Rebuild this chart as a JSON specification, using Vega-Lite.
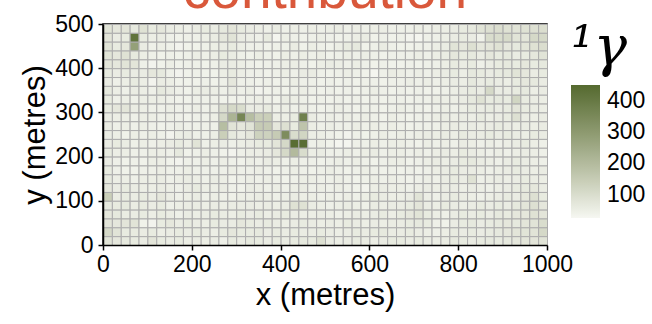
{
"$schema": "https://vega.github.io/schema/vega-lite/v6.json",
"width": 444,
"height": 221,
"autosize": {"type": "none"},
"padding": {"left": 103, "top": 24, "right": 105, "bottom": 79},
"title": {"text": "contribution", "fontSize": 55, "color": "#d9583b", "font": "Liberation Sans", "fontWeight": "normal", "anchor": "middle", "offset": -7, "frame": "group"},
"config": {"view": {"stroke": "black", "strokeWidth": 1.5}, "font": "Liberation Sans"},
"data": {"values": [
{"x":10,"y":490,"v":80},{"x":30,"y":490,"v":70},{"x":50,"y":490,"v":75},{"x":70,"y":490,"v":65},{"x":90,"y":490,"v":85},{"x":110,"y":490,"v":60},{"x":130,"y":490,"v":70},{"x":150,"y":490,"v":55},{"x":170,"y":490,"v":50},{"x":190,"y":490,"v":45},{"x":210,"y":490,"v":55},{"x":230,"y":490,"v":60},{"x":250,"y":490,"v":55},{"x":270,"y":490,"v":65},{"x":290,"y":490,"v":75},{"x":310,"y":490,"v":60},{"x":330,"y":490,"v":55},{"x":350,"y":490,"v":50},{"x":370,"y":490,"v":45},{"x":390,"y":490,"v":55},{"x":410,"y":490,"v":45},{"x":430,"y":490,"v":50},{"x":450,"y":490,"v":45},{"x":470,"y":490,"v":50},{"x":490,"y":490,"v":45},{"x":510,"y":490,"v":50},{"x":530,"y":490,"v":55},{"x":550,"y":490,"v":45},{"x":570,"y":490,"v":50},{"x":590,"y":490,"v":45},{"x":610,"y":490,"v":50},{"x":630,"y":490,"v":50},{"x":650,"y":490,"v":45},{"x":670,"y":490,"v":45},{"x":690,"y":490,"v":45},{"x":710,"y":490,"v":50},{"x":730,"y":490,"v":45},{"x":750,"y":490,"v":50},{"x":770,"y":490,"v":50},{"x":790,"y":490,"v":55},{"x":810,"y":490,"v":60},{"x":830,"y":490,"v":65},{"x":850,"y":490,"v":80},{"x":870,"y":490,"v":90},{"x":890,"y":490,"v":95},{"x":910,"y":490,"v":85},{"x":930,"y":490,"v":80},{"x":950,"y":490,"v":85},{"x":970,"y":490,"v":90},{"x":990,"y":490,"v":95},
{"x":10,"y":470,"v":75},{"x":30,"y":470,"v":55},{"x":50,"y":470,"v":60},{"x":70,"y":470,"v":420},{"x":90,"y":470,"v":60},{"x":110,"y":470,"v":50},{"x":130,"y":470,"v":55},{"x":150,"y":470,"v":45},{"x":170,"y":470,"v":40},{"x":190,"y":470,"v":45},{"x":210,"y":470,"v":45},{"x":230,"y":470,"v":50},{"x":250,"y":470,"v":55},{"x":270,"y":470,"v":70},{"x":290,"y":470,"v":80},{"x":310,"y":470,"v":55},{"x":330,"y":470,"v":50},{"x":350,"y":470,"v":45},{"x":370,"y":470,"v":60},{"x":390,"y":470,"v":30},{"x":410,"y":470,"v":50},{"x":430,"y":470,"v":45},{"x":450,"y":470,"v":40},{"x":470,"y":470,"v":45},{"x":490,"y":470,"v":50},{"x":510,"y":470,"v":45},{"x":530,"y":470,"v":40},{"x":550,"y":470,"v":45},{"x":570,"y":470,"v":50},{"x":590,"y":470,"v":55},{"x":610,"y":470,"v":40},{"x":630,"y":470,"v":45},{"x":650,"y":470,"v":40},{"x":670,"y":470,"v":45},{"x":690,"y":470,"v":35},{"x":710,"y":470,"v":30},{"x":730,"y":470,"v":45},{"x":750,"y":470,"v":45},{"x":770,"y":470,"v":50},{"x":790,"y":470,"v":55},{"x":810,"y":470,"v":60},{"x":830,"y":470,"v":55},{"x":850,"y":470,"v":40},{"x":870,"y":470,"v":100},{"x":890,"y":470,"v":100},{"x":910,"y":470,"v":105},{"x":930,"y":470,"v":80},{"x":950,"y":470,"v":75},{"x":970,"y":470,"v":110},{"x":990,"y":470,"v":110},
{"x":10,"y":450,"v":80},{"x":30,"y":450,"v":60},{"x":50,"y":450,"v":70},{"x":70,"y":450,"v":280},{"x":90,"y":450,"v":55},{"x":110,"y":450,"v":45},{"x":130,"y":450,"v":50},{"x":150,"y":450,"v":45},{"x":170,"y":450,"v":35},{"x":190,"y":450,"v":40},{"x":210,"y":450,"v":40},{"x":230,"y":450,"v":45},{"x":250,"y":450,"v":50},{"x":270,"y":450,"v":55},{"x":290,"y":450,"v":60},{"x":310,"y":450,"v":50},{"x":330,"y":450,"v":45},{"x":350,"y":450,"v":45},{"x":370,"y":450,"v":40},{"x":390,"y":450,"v":45},{"x":410,"y":450,"v":45},{"x":430,"y":450,"v":55},{"x":450,"y":450,"v":40},{"x":470,"y":450,"v":50},{"x":490,"y":450,"v":45},{"x":510,"y":450,"v":40},{"x":530,"y":450,"v":50},{"x":550,"y":450,"v":60},{"x":570,"y":450,"v":65},{"x":590,"y":450,"v":40},{"x":610,"y":450,"v":45},{"x":630,"y":450,"v":55},{"x":650,"y":450,"v":45},{"x":670,"y":450,"v":40},{"x":690,"y":450,"v":40},{"x":710,"y":450,"v":45},{"x":730,"y":450,"v":45},{"x":750,"y":450,"v":50},{"x":770,"y":450,"v":55},{"x":790,"y":450,"v":80},{"x":810,"y":450,"v":70},{"x":830,"y":450,"v":90},{"x":850,"y":450,"v":70},{"x":870,"y":450,"v":75},{"x":890,"y":450,"v":85},{"x":910,"y":450,"v":70},{"x":930,"y":450,"v":65},{"x":950,"y":450,"v":75},{"x":970,"y":450,"v":85},{"x":990,"y":450,"v":95},
{"x":10,"y":430,"v":80},{"x":30,"y":430,"v":70},{"x":50,"y":430,"v":85},{"x":70,"y":430,"v":65},{"x":90,"y":430,"v":50},{"x":110,"y":430,"v":45},{"x":130,"y":430,"v":40},{"x":150,"y":430,"v":45},{"x":170,"y":430,"v":40},{"x":190,"y":430,"v":45},{"x":210,"y":430,"v":50},{"x":230,"y":430,"v":45},{"x":250,"y":430,"v":50},{"x":270,"y":430,"v":60},{"x":290,"y":430,"v":55},{"x":310,"y":430,"v":45},{"x":330,"y":430,"v":40},{"x":350,"y":430,"v":50},{"x":370,"y":430,"v":45},{"x":390,"y":430,"v":40},{"x":410,"y":430,"v":50},{"x":430,"y":430,"v":45},{"x":450,"y":430,"v":50},{"x":470,"y":430,"v":45},{"x":490,"y":430,"v":50},{"x":510,"y":430,"v":40},{"x":530,"y":430,"v":45},{"x":550,"y":430,"v":50},{"x":570,"y":430,"v":45},{"x":590,"y":430,"v":50},{"x":610,"y":430,"v":45},{"x":630,"y":430,"v":40},{"x":650,"y":430,"v":45},{"x":670,"y":430,"v":45},{"x":690,"y":430,"v":45},{"x":710,"y":430,"v":50},{"x":730,"y":430,"v":45},{"x":750,"y":430,"v":50},{"x":770,"y":430,"v":55},{"x":790,"y":430,"v":70},{"x":810,"y":430,"v":60},{"x":830,"y":430,"v":65},{"x":850,"y":430,"v":55},{"x":870,"y":430,"v":70},{"x":890,"y":430,"v":60},{"x":910,"y":430,"v":65},{"x":930,"y":430,"v":55},{"x":950,"y":430,"v":60},{"x":970,"y":430,"v":70},{"x":990,"y":430,"v":80},
{"x":10,"y":410,"v":75},{"x":30,"y":410,"v":70},{"x":50,"y":410,"v":80},{"x":70,"y":410,"v":75},{"x":90,"y":410,"v":45},{"x":110,"y":410,"v":35},{"x":130,"y":410,"v":40},{"x":150,"y":410,"v":50},{"x":170,"y":410,"v":40},{"x":190,"y":410,"v":45},{"x":210,"y":410,"v":45},{"x":230,"y":410,"v":40},{"x":250,"y":410,"v":45},{"x":270,"y":410,"v":55},{"x":290,"y":410,"v":55},{"x":310,"y":410,"v":50},{"x":330,"y":410,"v":45},{"x":350,"y":410,"v":40},{"x":370,"y":410,"v":45},{"x":390,"y":410,"v":45},{"x":410,"y":410,"v":50},{"x":430,"y":410,"v":50},{"x":450,"y":410,"v":45},{"x":470,"y":410,"v":40},{"x":490,"y":410,"v":50},{"x":510,"y":410,"v":55},{"x":530,"y":410,"v":50},{"x":550,"y":410,"v":45},{"x":570,"y":410,"v":50},{"x":590,"y":410,"v":45},{"x":610,"y":410,"v":40},{"x":630,"y":410,"v":45},{"x":650,"y":410,"v":40},{"x":670,"y":410,"v":40},{"x":690,"y":410,"v":45},{"x":710,"y":410,"v":40},{"x":730,"y":410,"v":45},{"x":750,"y":410,"v":45},{"x":770,"y":410,"v":50},{"x":790,"y":410,"v":60},{"x":810,"y":410,"v":55},{"x":830,"y":410,"v":60},{"x":850,"y":410,"v":45},{"x":870,"y":410,"v":55},{"x":890,"y":410,"v":60},{"x":910,"y":410,"v":65},{"x":930,"y":410,"v":60},{"x":950,"y":410,"v":70},{"x":970,"y":410,"v":60},{"x":990,"y":410,"v":65},
{"x":10,"y":390,"v":60},{"x":30,"y":390,"v":55},{"x":50,"y":390,"v":60},{"x":70,"y":390,"v":55},{"x":90,"y":390,"v":55},{"x":110,"y":390,"v":70},{"x":130,"y":390,"v":65},{"x":150,"y":390,"v":45},{"x":170,"y":390,"v":35},{"x":190,"y":390,"v":40},{"x":210,"y":390,"v":45},{"x":230,"y":390,"v":40},{"x":250,"y":390,"v":40},{"x":270,"y":390,"v":50},{"x":290,"y":390,"v":60},{"x":310,"y":390,"v":50},{"x":330,"y":390,"v":45},{"x":350,"y":390,"v":45},{"x":370,"y":390,"v":40},{"x":390,"y":390,"v":45},{"x":410,"y":390,"v":50},{"x":430,"y":390,"v":45},{"x":450,"y":390,"v":55},{"x":470,"y":390,"v":55},{"x":490,"y":390,"v":45},{"x":510,"y":390,"v":40},{"x":530,"y":390,"v":45},{"x":550,"y":390,"v":50},{"x":570,"y":390,"v":45},{"x":590,"y":390,"v":40},{"x":610,"y":390,"v":30},{"x":630,"y":390,"v":45},{"x":650,"y":390,"v":55},{"x":670,"y":390,"v":50},{"x":690,"y":390,"v":45},{"x":710,"y":390,"v":50},{"x":730,"y":390,"v":45},{"x":750,"y":390,"v":50},{"x":770,"y":390,"v":55},{"x":790,"y":390,"v":60},{"x":810,"y":390,"v":50},{"x":830,"y":390,"v":65},{"x":850,"y":390,"v":60},{"x":870,"y":390,"v":55},{"x":890,"y":390,"v":60},{"x":910,"y":390,"v":65},{"x":930,"y":390,"v":80},{"x":950,"y":390,"v":70},{"x":970,"y":390,"v":55},{"x":990,"y":390,"v":60},
{"x":10,"y":370,"v":55},{"x":30,"y":370,"v":45},{"x":50,"y":370,"v":50},{"x":70,"y":370,"v":60},{"x":90,"y":370,"v":50},{"x":110,"y":370,"v":35},{"x":130,"y":370,"v":55},{"x":150,"y":370,"v":50},{"x":170,"y":370,"v":40},{"x":190,"y":370,"v":40},{"x":210,"y":370,"v":40},{"x":230,"y":370,"v":45},{"x":250,"y":370,"v":40},{"x":270,"y":370,"v":45},{"x":290,"y":370,"v":70},{"x":310,"y":370,"v":45},{"x":330,"y":370,"v":45},{"x":350,"y":370,"v":40},{"x":370,"y":370,"v":45},{"x":390,"y":370,"v":40},{"x":410,"y":370,"v":45},{"x":430,"y":370,"v":50},{"x":450,"y":370,"v":45},{"x":470,"y":370,"v":45},{"x":490,"y":370,"v":40},{"x":510,"y":370,"v":45},{"x":530,"y":370,"v":40},{"x":550,"y":370,"v":45},{"x":570,"y":370,"v":40},{"x":590,"y":370,"v":45},{"x":610,"y":370,"v":45},{"x":630,"y":370,"v":40},{"x":650,"y":370,"v":45},{"x":670,"y":370,"v":45},{"x":690,"y":370,"v":50},{"x":710,"y":370,"v":45},{"x":730,"y":370,"v":50},{"x":750,"y":370,"v":45},{"x":770,"y":370,"v":50},{"x":790,"y":370,"v":55},{"x":810,"y":370,"v":50},{"x":830,"y":370,"v":65},{"x":850,"y":370,"v":55},{"x":870,"y":370,"v":60},{"x":890,"y":370,"v":55},{"x":910,"y":370,"v":50},{"x":930,"y":370,"v":60},{"x":950,"y":370,"v":70},{"x":970,"y":370,"v":65},{"x":990,"y":370,"v":55},
{"x":10,"y":350,"v":65},{"x":30,"y":350,"v":50},{"x":50,"y":350,"v":45},{"x":70,"y":350,"v":55},{"x":90,"y":350,"v":50},{"x":110,"y":350,"v":45},{"x":130,"y":350,"v":65},{"x":150,"y":350,"v":55},{"x":170,"y":350,"v":45},{"x":190,"y":350,"v":40},{"x":210,"y":350,"v":50},{"x":230,"y":350,"v":55},{"x":250,"y":350,"v":50},{"x":270,"y":350,"v":45},{"x":290,"y":350,"v":55},{"x":310,"y":350,"v":45},{"x":330,"y":350,"v":50},{"x":350,"y":350,"v":35},{"x":370,"y":350,"v":40},{"x":390,"y":350,"v":45},{"x":410,"y":350,"v":40},{"x":430,"y":350,"v":45},{"x":450,"y":350,"v":50},{"x":470,"y":350,"v":45},{"x":490,"y":350,"v":40},{"x":510,"y":350,"v":45},{"x":530,"y":350,"v":40},{"x":550,"y":350,"v":45},{"x":570,"y":350,"v":40},{"x":590,"y":350,"v":45},{"x":610,"y":350,"v":50},{"x":630,"y":350,"v":45},{"x":650,"y":350,"v":40},{"x":670,"y":350,"v":45},{"x":690,"y":350,"v":40},{"x":710,"y":350,"v":45},{"x":730,"y":350,"v":40},{"x":750,"y":350,"v":40},{"x":770,"y":350,"v":45},{"x":790,"y":350,"v":50},{"x":810,"y":350,"v":55},{"x":830,"y":350,"v":60},{"x":850,"y":350,"v":55},{"x":870,"y":350,"v":110},{"x":890,"y":350,"v":55},{"x":910,"y":350,"v":55},{"x":930,"y":350,"v":60},{"x":950,"y":350,"v":65},{"x":970,"y":350,"v":50},{"x":990,"y":350,"v":55},
{"x":10,"y":330,"v":60},{"x":30,"y":330,"v":45},{"x":50,"y":330,"v":50},{"x":70,"y":330,"v":45},{"x":90,"y":330,"v":50},{"x":110,"y":330,"v":50},{"x":130,"y":330,"v":50},{"x":150,"y":330,"v":45},{"x":170,"y":330,"v":40},{"x":190,"y":330,"v":40},{"x":210,"y":330,"v":45},{"x":230,"y":330,"v":45},{"x":250,"y":330,"v":45},{"x":270,"y":330,"v":40},{"x":290,"y":330,"v":40},{"x":310,"y":330,"v":40},{"x":330,"y":330,"v":45},{"x":350,"y":330,"v":50},{"x":370,"y":330,"v":45},{"x":390,"y":330,"v":40},{"x":410,"y":330,"v":55},{"x":430,"y":330,"v":50},{"x":450,"y":330,"v":45},{"x":470,"y":330,"v":40},{"x":490,"y":330,"v":45},{"x":510,"y":330,"v":40},{"x":530,"y":330,"v":45},{"x":550,"y":330,"v":40},{"x":570,"y":330,"v":45},{"x":590,"y":330,"v":40},{"x":610,"y":330,"v":45},{"x":630,"y":330,"v":40},{"x":650,"y":330,"v":45},{"x":670,"y":330,"v":45},{"x":690,"y":330,"v":40},{"x":710,"y":330,"v":45},{"x":730,"y":330,"v":45},{"x":750,"y":330,"v":50},{"x":770,"y":330,"v":50},{"x":790,"y":330,"v":50},{"x":810,"y":330,"v":55},{"x":830,"y":330,"v":65},{"x":850,"y":330,"v":85},{"x":870,"y":330,"v":60},{"x":890,"y":330,"v":65},{"x":910,"y":330,"v":60},{"x":930,"y":330,"v":120},{"x":950,"y":330,"v":60},{"x":970,"y":330,"v":55},{"x":990,"y":330,"v":50},
{"x":10,"y":310,"v":60},{"x":30,"y":310,"v":70},{"x":50,"y":310,"v":75},{"x":70,"y":310,"v":55},{"x":90,"y":310,"v":50},{"x":110,"y":310,"v":45},{"x":130,"y":310,"v":45},{"x":150,"y":310,"v":50},{"x":170,"y":310,"v":45},{"x":190,"y":310,"v":45},{"x":210,"y":310,"v":50},{"x":230,"y":310,"v":45},{"x":250,"y":310,"v":50},{"x":270,"y":310,"v":90},{"x":290,"y":310,"v":110},{"x":310,"y":310,"v":100},{"x":330,"y":310,"v":55},{"x":350,"y":310,"v":55},{"x":370,"y":310,"v":60},{"x":390,"y":310,"v":45},{"x":410,"y":310,"v":50},{"x":430,"y":310,"v":45},{"x":450,"y":310,"v":50},{"x":470,"y":310,"v":45},{"x":490,"y":310,"v":40},{"x":510,"y":310,"v":45},{"x":530,"y":310,"v":50},{"x":550,"y":310,"v":45},{"x":570,"y":310,"v":40},{"x":590,"y":310,"v":45},{"x":610,"y":310,"v":45},{"x":630,"y":310,"v":40},{"x":650,"y":310,"v":45},{"x":670,"y":310,"v":50},{"x":690,"y":310,"v":45},{"x":710,"y":310,"v":45},{"x":730,"y":310,"v":40},{"x":750,"y":310,"v":45},{"x":770,"y":310,"v":50},{"x":790,"y":310,"v":45},{"x":810,"y":310,"v":50},{"x":830,"y":310,"v":60},{"x":850,"y":310,"v":55},{"x":870,"y":310,"v":60},{"x":890,"y":310,"v":55},{"x":910,"y":310,"v":60},{"x":930,"y":310,"v":75},{"x":950,"y":310,"v":60},{"x":970,"y":310,"v":55},{"x":990,"y":310,"v":50},
{"x":10,"y":290,"v":55},{"x":30,"y":290,"v":50},{"x":50,"y":290,"v":50},{"x":70,"y":290,"v":45},{"x":90,"y":290,"v":50},{"x":110,"y":290,"v":50},{"x":130,"y":290,"v":45},{"x":150,"y":290,"v":50},{"x":170,"y":290,"v":45},{"x":190,"y":290,"v":40},{"x":210,"y":290,"v":45},{"x":230,"y":290,"v":45},{"x":250,"y":290,"v":50},{"x":270,"y":290,"v":110},{"x":290,"y":290,"v":220},{"x":310,"y":290,"v":360},{"x":330,"y":290,"v":190},{"x":350,"y":290,"v":140},{"x":370,"y":290,"v":140},{"x":390,"y":290,"v":50},{"x":410,"y":290,"v":50},{"x":430,"y":290,"v":60},{"x":450,"y":290,"v":380},{"x":470,"y":290,"v":55},{"x":490,"y":290,"v":45},{"x":510,"y":290,"v":50},{"x":530,"y":290,"v":45},{"x":550,"y":290,"v":50},{"x":570,"y":290,"v":45},{"x":590,"y":290,"v":50},{"x":610,"y":290,"v":45},{"x":630,"y":290,"v":40},{"x":650,"y":290,"v":50},{"x":670,"y":290,"v":45},{"x":690,"y":290,"v":40},{"x":710,"y":290,"v":45},{"x":730,"y":290,"v":45},{"x":750,"y":290,"v":50},{"x":770,"y":290,"v":55},{"x":790,"y":290,"v":50},{"x":810,"y":290,"v":55},{"x":830,"y":290,"v":50},{"x":850,"y":290,"v":60},{"x":870,"y":290,"v":50},{"x":890,"y":290,"v":55},{"x":910,"y":290,"v":60},{"x":930,"y":290,"v":90},{"x":950,"y":290,"v":55},{"x":970,"y":290,"v":50},{"x":990,"y":290,"v":55},
{"x":10,"y":270,"v":55},{"x":30,"y":270,"v":45},{"x":50,"y":270,"v":50},{"x":70,"y":270,"v":45},{"x":90,"y":270,"v":50},{"x":110,"y":270,"v":45},{"x":130,"y":270,"v":40},{"x":150,"y":270,"v":45},{"x":170,"y":270,"v":50},{"x":190,"y":270,"v":45},{"x":210,"y":270,"v":45},{"x":230,"y":270,"v":45},{"x":250,"y":270,"v":45},{"x":270,"y":270,"v":190},{"x":290,"y":270,"v":80},{"x":310,"y":270,"v":70},{"x":330,"y":270,"v":80},{"x":350,"y":270,"v":150},{"x":370,"y":270,"v":150},{"x":390,"y":270,"v":70},{"x":410,"y":270,"v":90},{"x":430,"y":270,"v":60},{"x":450,"y":270,"v":170},{"x":470,"y":270,"v":50},{"x":490,"y":270,"v":45},{"x":510,"y":270,"v":50},{"x":530,"y":270,"v":45},{"x":550,"y":270,"v":45},{"x":570,"y":270,"v":50},{"x":590,"y":270,"v":45},{"x":610,"y":270,"v":50},{"x":630,"y":270,"v":45},{"x":650,"y":270,"v":50},{"x":670,"y":270,"v":45},{"x":690,"y":270,"v":40},{"x":710,"y":270,"v":45},{"x":730,"y":270,"v":45},{"x":750,"y":270,"v":45},{"x":770,"y":270,"v":50},{"x":790,"y":270,"v":55},{"x":810,"y":270,"v":50},{"x":830,"y":270,"v":55},{"x":850,"y":270,"v":50},{"x":870,"y":270,"v":55},{"x":890,"y":270,"v":60},{"x":910,"y":270,"v":55},{"x":930,"y":270,"v":50},{"x":950,"y":270,"v":55},{"x":970,"y":270,"v":50},{"x":990,"y":270,"v":55},
{"x":10,"y":250,"v":55},{"x":30,"y":250,"v":50},{"x":50,"y":250,"v":40},{"x":70,"y":250,"v":50},{"x":90,"y":250,"v":45},{"x":110,"y":250,"v":50},{"x":130,"y":250,"v":45},{"x":150,"y":250,"v":35},{"x":170,"y":250,"v":50},{"x":190,"y":250,"v":55},{"x":210,"y":250,"v":45},{"x":230,"y":250,"v":45},{"x":250,"y":250,"v":50},{"x":270,"y":250,"v":140},{"x":290,"y":250,"v":65},{"x":310,"y":250,"v":55},{"x":330,"y":250,"v":70},{"x":350,"y":250,"v":130},{"x":370,"y":250,"v":130},{"x":390,"y":250,"v":150},{"x":410,"y":250,"v":340},{"x":430,"y":250,"v":100},{"x":450,"y":250,"v":120},{"x":470,"y":250,"v":50},{"x":490,"y":250,"v":50},{"x":510,"y":250,"v":45},{"x":530,"y":250,"v":40},{"x":550,"y":250,"v":35},{"x":570,"y":250,"v":45},{"x":590,"y":250,"v":40},{"x":610,"y":250,"v":45},{"x":630,"y":250,"v":50},{"x":650,"y":250,"v":45},{"x":670,"y":250,"v":50},{"x":690,"y":250,"v":45},{"x":710,"y":250,"v":50},{"x":730,"y":250,"v":55},{"x":750,"y":250,"v":50},{"x":770,"y":250,"v":55},{"x":790,"y":250,"v":50},{"x":810,"y":250,"v":60},{"x":830,"y":250,"v":55},{"x":850,"y":250,"v":55},{"x":870,"y":250,"v":60},{"x":890,"y":250,"v":55},{"x":910,"y":250,"v":60},{"x":930,"y":250,"v":55},{"x":950,"y":250,"v":50},{"x":970,"y":250,"v":60},{"x":990,"y":250,"v":55},
{"x":10,"y":230,"v":55},{"x":30,"y":230,"v":60},{"x":50,"y":230,"v":55},{"x":70,"y":230,"v":45},{"x":90,"y":230,"v":50},{"x":110,"y":230,"v":45},{"x":130,"y":230,"v":50},{"x":150,"y":230,"v":55},{"x":170,"y":230,"v":60},{"x":190,"y":230,"v":50},{"x":210,"y":230,"v":80},{"x":230,"y":230,"v":45},{"x":250,"y":230,"v":50},{"x":270,"y":230,"v":55},{"x":290,"y":230,"v":45},{"x":310,"y":230,"v":50},{"x":330,"y":230,"v":55},{"x":350,"y":230,"v":60},{"x":370,"y":230,"v":60},{"x":390,"y":230,"v":75},{"x":410,"y":230,"v":110},{"x":430,"y":230,"v":440},{"x":450,"y":230,"v":440},{"x":470,"y":230,"v":45},{"x":490,"y":230,"v":50},{"x":510,"y":230,"v":40},{"x":530,"y":230,"v":30},{"x":550,"y":230,"v":30},{"x":570,"y":230,"v":45},{"x":590,"y":230,"v":45},{"x":610,"y":230,"v":50},{"x":630,"y":230,"v":45},{"x":650,"y":230,"v":50},{"x":670,"y":230,"v":50},{"x":690,"y":230,"v":45},{"x":710,"y":230,"v":40},{"x":730,"y":230,"v":50},{"x":750,"y":230,"v":45},{"x":770,"y":230,"v":50},{"x":790,"y":230,"v":45},{"x":810,"y":230,"v":55},{"x":830,"y":230,"v":50},{"x":850,"y":230,"v":45},{"x":870,"y":230,"v":50},{"x":890,"y":230,"v":45},{"x":910,"y":230,"v":50},{"x":930,"y":230,"v":55},{"x":950,"y":230,"v":60},{"x":970,"y":230,"v":50},{"x":990,"y":230,"v":45},
{"x":10,"y":210,"v":60},{"x":30,"y":210,"v":50},{"x":50,"y":210,"v":50},{"x":70,"y":210,"v":45},{"x":90,"y":210,"v":45},{"x":110,"y":210,"v":50},{"x":130,"y":210,"v":50},{"x":150,"y":210,"v":45},{"x":170,"y":210,"v":65},{"x":190,"y":210,"v":40},{"x":210,"y":210,"v":45},{"x":230,"y":210,"v":50},{"x":250,"y":210,"v":45},{"x":270,"y":210,"v":40},{"x":290,"y":210,"v":35},{"x":310,"y":210,"v":45},{"x":330,"y":210,"v":50},{"x":350,"y":210,"v":50},{"x":370,"y":210,"v":55},{"x":390,"y":210,"v":70},{"x":410,"y":210,"v":110},{"x":430,"y":210,"v":200},{"x":450,"y":210,"v":100},{"x":470,"y":210,"v":50},{"x":490,"y":210,"v":55},{"x":510,"y":210,"v":45},{"x":530,"y":210,"v":45},{"x":550,"y":210,"v":50},{"x":570,"y":210,"v":45},{"x":590,"y":210,"v":50},{"x":610,"y":210,"v":55},{"x":630,"y":210,"v":45},{"x":650,"y":210,"v":50},{"x":670,"y":210,"v":50},{"x":690,"y":210,"v":45},{"x":710,"y":210,"v":50},{"x":730,"y":210,"v":45},{"x":750,"y":210,"v":50},{"x":770,"y":210,"v":55},{"x":790,"y":210,"v":50},{"x":810,"y":210,"v":60},{"x":830,"y":210,"v":55},{"x":850,"y":210,"v":50},{"x":870,"y":210,"v":45},{"x":890,"y":210,"v":50},{"x":910,"y":210,"v":45},{"x":930,"y":210,"v":50},{"x":950,"y":210,"v":55},{"x":970,"y":210,"v":50},{"x":990,"y":210,"v":45},
{"x":10,"y":190,"v":55},{"x":30,"y":190,"v":45},{"x":50,"y":190,"v":40},{"x":70,"y":190,"v":45},{"x":90,"y":190,"v":40},{"x":110,"y":190,"v":50},{"x":130,"y":190,"v":50},{"x":150,"y":190,"v":40},{"x":170,"y":190,"v":35},{"x":190,"y":190,"v":45},{"x":210,"y":190,"v":45},{"x":230,"y":190,"v":50},{"x":250,"y":190,"v":45},{"x":270,"y":190,"v":50},{"x":290,"y":190,"v":45},{"x":310,"y":190,"v":40},{"x":330,"y":190,"v":50},{"x":350,"y":190,"v":45},{"x":370,"y":190,"v":55},{"x":390,"y":190,"v":50},{"x":410,"y":190,"v":45},{"x":430,"y":190,"v":50},{"x":450,"y":190,"v":45},{"x":470,"y":190,"v":45},{"x":490,"y":190,"v":40},{"x":510,"y":190,"v":45},{"x":530,"y":190,"v":50},{"x":550,"y":190,"v":45},{"x":570,"y":190,"v":50},{"x":590,"y":190,"v":45},{"x":610,"y":190,"v":40},{"x":630,"y":190,"v":45},{"x":650,"y":190,"v":50},{"x":670,"y":190,"v":50},{"x":690,"y":190,"v":40},{"x":710,"y":190,"v":45},{"x":730,"y":190,"v":50},{"x":750,"y":190,"v":55},{"x":770,"y":190,"v":50},{"x":790,"y":190,"v":55},{"x":810,"y":190,"v":60},{"x":830,"y":190,"v":65},{"x":850,"y":190,"v":55},{"x":870,"y":190,"v":50},{"x":890,"y":190,"v":45},{"x":910,"y":190,"v":55},{"x":930,"y":190,"v":60},{"x":950,"y":190,"v":55},{"x":970,"y":190,"v":50},{"x":990,"y":190,"v":45},
{"x":10,"y":170,"v":60},{"x":30,"y":170,"v":45},{"x":50,"y":170,"v":40},{"x":70,"y":170,"v":40},{"x":90,"y":170,"v":45},{"x":110,"y":170,"v":45},{"x":130,"y":170,"v":50},{"x":150,"y":170,"v":45},{"x":170,"y":170,"v":45},{"x":190,"y":170,"v":50},{"x":210,"y":170,"v":45},{"x":230,"y":170,"v":45},{"x":250,"y":170,"v":45},{"x":270,"y":170,"v":45},{"x":290,"y":170,"v":50},{"x":310,"y":170,"v":45},{"x":330,"y":170,"v":45},{"x":350,"y":170,"v":50},{"x":370,"y":170,"v":45},{"x":390,"y":170,"v":40},{"x":410,"y":170,"v":45},{"x":430,"y":170,"v":50},{"x":450,"y":170,"v":45},{"x":470,"y":170,"v":40},{"x":490,"y":170,"v":45},{"x":510,"y":170,"v":50},{"x":530,"y":170,"v":45},{"x":550,"y":170,"v":40},{"x":570,"y":170,"v":45},{"x":590,"y":170,"v":50},{"x":610,"y":170,"v":45},{"x":630,"y":170,"v":40},{"x":650,"y":170,"v":45},{"x":670,"y":170,"v":40},{"x":690,"y":170,"v":45},{"x":710,"y":170,"v":40},{"x":730,"y":170,"v":45},{"x":750,"y":170,"v":50},{"x":770,"y":170,"v":55},{"x":790,"y":170,"v":60},{"x":810,"y":170,"v":55},{"x":830,"y":170,"v":55},{"x":850,"y":170,"v":50},{"x":870,"y":170,"v":45},{"x":890,"y":170,"v":50},{"x":910,"y":170,"v":55},{"x":930,"y":170,"v":60},{"x":950,"y":170,"v":55},{"x":970,"y":170,"v":50},{"x":990,"y":170,"v":55},
{"x":10,"y":150,"v":65},{"x":30,"y":150,"v":50},{"x":50,"y":150,"v":50},{"x":70,"y":150,"v":45},{"x":90,"y":150,"v":50},{"x":110,"y":150,"v":50},{"x":130,"y":150,"v":55},{"x":150,"y":150,"v":45},{"x":170,"y":150,"v":50},{"x":190,"y":150,"v":55},{"x":210,"y":150,"v":50},{"x":230,"y":150,"v":45},{"x":250,"y":150,"v":55},{"x":270,"y":150,"v":50},{"x":290,"y":150,"v":40},{"x":310,"y":150,"v":45},{"x":330,"y":150,"v":50},{"x":350,"y":150,"v":45},{"x":370,"y":150,"v":50},{"x":390,"y":150,"v":45},{"x":410,"y":150,"v":40},{"x":430,"y":150,"v":45},{"x":450,"y":150,"v":50},{"x":470,"y":150,"v":50},{"x":490,"y":150,"v":45},{"x":510,"y":150,"v":45},{"x":530,"y":150,"v":50},{"x":550,"y":150,"v":45},{"x":570,"y":150,"v":40},{"x":590,"y":150,"v":45},{"x":610,"y":150,"v":50},{"x":630,"y":150,"v":45},{"x":650,"y":150,"v":50},{"x":670,"y":150,"v":45},{"x":690,"y":150,"v":40},{"x":710,"y":150,"v":45},{"x":730,"y":150,"v":50},{"x":750,"y":150,"v":45},{"x":770,"y":150,"v":55},{"x":790,"y":150,"v":60},{"x":810,"y":150,"v":55},{"x":830,"y":150,"v":85},{"x":850,"y":150,"v":45},{"x":870,"y":150,"v":50},{"x":890,"y":150,"v":55},{"x":910,"y":150,"v":50},{"x":930,"y":150,"v":55},{"x":950,"y":150,"v":60},{"x":970,"y":150,"v":55},{"x":990,"y":150,"v":50},
{"x":10,"y":130,"v":70},{"x":30,"y":130,"v":55},{"x":50,"y":130,"v":60},{"x":70,"y":130,"v":55},{"x":90,"y":130,"v":50},{"x":110,"y":130,"v":50},{"x":130,"y":130,"v":55},{"x":150,"y":130,"v":50},{"x":170,"y":130,"v":45},{"x":190,"y":130,"v":55},{"x":210,"y":130,"v":60},{"x":230,"y":130,"v":50},{"x":250,"y":130,"v":50},{"x":270,"y":130,"v":55},{"x":290,"y":130,"v":45},{"x":310,"y":130,"v":40},{"x":330,"y":130,"v":55},{"x":350,"y":130,"v":50},{"x":370,"y":130,"v":45},{"x":390,"y":130,"v":50},{"x":410,"y":130,"v":45},{"x":430,"y":130,"v":50},{"x":450,"y":130,"v":55},{"x":470,"y":130,"v":45},{"x":490,"y":130,"v":50},{"x":510,"y":130,"v":45},{"x":530,"y":130,"v":50},{"x":550,"y":130,"v":45},{"x":570,"y":130,"v":40},{"x":590,"y":130,"v":35},{"x":610,"y":130,"v":50},{"x":630,"y":130,"v":55},{"x":650,"y":130,"v":50},{"x":670,"y":130,"v":50},{"x":690,"y":130,"v":45},{"x":710,"y":130,"v":50},{"x":730,"y":130,"v":55},{"x":750,"y":130,"v":50},{"x":770,"y":130,"v":55},{"x":790,"y":130,"v":55},{"x":810,"y":130,"v":50},{"x":830,"y":130,"v":55},{"x":850,"y":130,"v":50},{"x":870,"y":130,"v":45},{"x":890,"y":130,"v":50},{"x":910,"y":130,"v":55},{"x":930,"y":130,"v":60},{"x":950,"y":130,"v":65},{"x":970,"y":130,"v":70},{"x":990,"y":130,"v":55},
{"x":10,"y":110,"v":140},{"x":30,"y":110,"v":55},{"x":50,"y":110,"v":60},{"x":70,"y":110,"v":55},{"x":90,"y":110,"v":60},{"x":110,"y":110,"v":55},{"x":130,"y":110,"v":70},{"x":150,"y":110,"v":55},{"x":170,"y":110,"v":45},{"x":190,"y":110,"v":50},{"x":210,"y":110,"v":55},{"x":230,"y":110,"v":45},{"x":250,"y":110,"v":50},{"x":270,"y":110,"v":45},{"x":290,"y":110,"v":45},{"x":310,"y":110,"v":50},{"x":330,"y":110,"v":50},{"x":350,"y":110,"v":55},{"x":370,"y":110,"v":50},{"x":390,"y":110,"v":45},{"x":410,"y":110,"v":50},{"x":430,"y":110,"v":55},{"x":450,"y":110,"v":50},{"x":470,"y":110,"v":50},{"x":490,"y":110,"v":45},{"x":510,"y":110,"v":50},{"x":530,"y":110,"v":45},{"x":550,"y":110,"v":50},{"x":570,"y":110,"v":45},{"x":590,"y":110,"v":50},{"x":610,"y":110,"v":60},{"x":630,"y":110,"v":55},{"x":650,"y":110,"v":50},{"x":670,"y":110,"v":50},{"x":690,"y":110,"v":55},{"x":710,"y":110,"v":80},{"x":730,"y":110,"v":50},{"x":750,"y":110,"v":45},{"x":770,"y":110,"v":55},{"x":790,"y":110,"v":60},{"x":810,"y":110,"v":55},{"x":830,"y":110,"v":50},{"x":850,"y":110,"v":45},{"x":870,"y":110,"v":50},{"x":890,"y":110,"v":55},{"x":910,"y":110,"v":60},{"x":930,"y":110,"v":55},{"x":950,"y":110,"v":70},{"x":970,"y":110,"v":90},{"x":990,"y":110,"v":60},
{"x":10,"y":90,"v":65},{"x":30,"y":90,"v":60},{"x":50,"y":90,"v":65},{"x":70,"y":90,"v":55},{"x":90,"y":90,"v":60},{"x":110,"y":90,"v":55},{"x":130,"y":90,"v":60},{"x":150,"y":90,"v":45},{"x":170,"y":90,"v":50},{"x":190,"y":90,"v":55},{"x":210,"y":90,"v":55},{"x":230,"y":90,"v":50},{"x":250,"y":90,"v":55},{"x":270,"y":90,"v":50},{"x":290,"y":90,"v":55},{"x":310,"y":90,"v":55},{"x":330,"y":90,"v":55},{"x":350,"y":90,"v":50},{"x":370,"y":90,"v":55},{"x":390,"y":90,"v":50},{"x":410,"y":90,"v":55},{"x":430,"y":90,"v":85},{"x":450,"y":90,"v":85},{"x":470,"y":90,"v":55},{"x":490,"y":90,"v":50},{"x":510,"y":90,"v":45},{"x":530,"y":90,"v":50},{"x":550,"y":90,"v":55},{"x":570,"y":90,"v":50},{"x":590,"y":90,"v":45},{"x":610,"y":90,"v":55},{"x":630,"y":90,"v":50},{"x":650,"y":90,"v":55},{"x":670,"y":90,"v":55},{"x":690,"y":90,"v":60},{"x":710,"y":90,"v":75},{"x":730,"y":90,"v":55},{"x":750,"y":90,"v":50},{"x":770,"y":90,"v":60},{"x":790,"y":90,"v":55},{"x":810,"y":90,"v":50},{"x":830,"y":90,"v":55},{"x":850,"y":90,"v":60},{"x":870,"y":90,"v":55},{"x":890,"y":90,"v":60},{"x":910,"y":90,"v":55},{"x":930,"y":90,"v":65},{"x":950,"y":90,"v":75},{"x":970,"y":90,"v":90},{"x":990,"y":90,"v":70},
{"x":10,"y":70,"v":70},{"x":30,"y":70,"v":65},{"x":50,"y":70,"v":55},{"x":70,"y":70,"v":55},{"x":90,"y":70,"v":60},{"x":110,"y":70,"v":50},{"x":130,"y":70,"v":60},{"x":150,"y":70,"v":55},{"x":170,"y":70,"v":45},{"x":190,"y":70,"v":55},{"x":210,"y":70,"v":50},{"x":230,"y":70,"v":55},{"x":250,"y":70,"v":60},{"x":270,"y":70,"v":55},{"x":290,"y":70,"v":50},{"x":310,"y":70,"v":60},{"x":330,"y":70,"v":55},{"x":350,"y":70,"v":60},{"x":370,"y":70,"v":50},{"x":390,"y":70,"v":55},{"x":410,"y":70,"v":60},{"x":430,"y":70,"v":55},{"x":450,"y":70,"v":50},{"x":470,"y":70,"v":50},{"x":490,"y":70,"v":55},{"x":510,"y":70,"v":50},{"x":530,"y":70,"v":45},{"x":550,"y":70,"v":50},{"x":570,"y":70,"v":55},{"x":590,"y":70,"v":50},{"x":610,"y":70,"v":55},{"x":630,"y":70,"v":60},{"x":650,"y":70,"v":50},{"x":670,"y":70,"v":60},{"x":690,"y":70,"v":70},{"x":710,"y":70,"v":80},{"x":730,"y":70,"v":60},{"x":750,"y":70,"v":50},{"x":770,"y":70,"v":45},{"x":790,"y":70,"v":55},{"x":810,"y":70,"v":60},{"x":830,"y":70,"v":55},{"x":850,"y":70,"v":60},{"x":870,"y":70,"v":55},{"x":890,"y":70,"v":65},{"x":910,"y":70,"v":60},{"x":930,"y":70,"v":70},{"x":950,"y":70,"v":70},{"x":970,"y":70,"v":85},{"x":990,"y":70,"v":75},
{"x":10,"y":50,"v":75},{"x":30,"y":50,"v":70},{"x":50,"y":50,"v":75},{"x":70,"y":50,"v":80},{"x":90,"y":50,"v":40},{"x":110,"y":50,"v":35},{"x":130,"y":50,"v":60},{"x":150,"y":50,"v":70},{"x":170,"y":50,"v":55},{"x":190,"y":50,"v":60},{"x":210,"y":50,"v":55},{"x":230,"y":50,"v":50},{"x":250,"y":50,"v":60},{"x":270,"y":50,"v":55},{"x":290,"y":50,"v":55},{"x":310,"y":50,"v":70},{"x":330,"y":50,"v":60},{"x":350,"y":50,"v":55},{"x":370,"y":50,"v":60},{"x":390,"y":50,"v":55},{"x":410,"y":50,"v":50},{"x":430,"y":50,"v":55},{"x":450,"y":50,"v":60},{"x":470,"y":50,"v":55},{"x":490,"y":50,"v":50},{"x":510,"y":50,"v":55},{"x":530,"y":50,"v":50},{"x":550,"y":50,"v":60},{"x":570,"y":50,"v":55},{"x":590,"y":50,"v":50},{"x":610,"y":50,"v":55},{"x":630,"y":50,"v":50},{"x":650,"y":50,"v":55},{"x":670,"y":50,"v":55},{"x":690,"y":50,"v":60},{"x":710,"y":50,"v":65},{"x":730,"y":50,"v":60},{"x":750,"y":50,"v":45},{"x":770,"y":50,"v":40},{"x":790,"y":50,"v":55},{"x":810,"y":50,"v":60},{"x":830,"y":50,"v":65},{"x":850,"y":50,"v":55},{"x":870,"y":50,"v":60},{"x":890,"y":50,"v":65},{"x":910,"y":50,"v":70},{"x":930,"y":50,"v":65},{"x":950,"y":50,"v":75},{"x":970,"y":50,"v":80},{"x":990,"y":50,"v":100},
{"x":10,"y":30,"v":110},{"x":30,"y":30,"v":80},{"x":50,"y":30,"v":60},{"x":70,"y":30,"v":60},{"x":90,"y":30,"v":55},{"x":110,"y":30,"v":60},{"x":130,"y":30,"v":50},{"x":150,"y":30,"v":55},{"x":170,"y":30,"v":60},{"x":190,"y":30,"v":55},{"x":210,"y":30,"v":60},{"x":230,"y":30,"v":55},{"x":250,"y":30,"v":50},{"x":270,"y":30,"v":60},{"x":290,"y":30,"v":70},{"x":310,"y":30,"v":60},{"x":330,"y":30,"v":60},{"x":350,"y":30,"v":65},{"x":370,"y":30,"v":55},{"x":390,"y":30,"v":60},{"x":410,"y":30,"v":55},{"x":430,"y":30,"v":60},{"x":450,"y":30,"v":55},{"x":470,"y":30,"v":55},{"x":490,"y":30,"v":60},{"x":510,"y":30,"v":55},{"x":530,"y":30,"v":50},{"x":550,"y":30,"v":55},{"x":570,"y":30,"v":60},{"x":590,"y":30,"v":55},{"x":610,"y":30,"v":60},{"x":630,"y":30,"v":65},{"x":650,"y":30,"v":55},{"x":670,"y":30,"v":55},{"x":690,"y":30,"v":60},{"x":710,"y":30,"v":55},{"x":730,"y":30,"v":50},{"x":750,"y":30,"v":45},{"x":770,"y":30,"v":50},{"x":790,"y":30,"v":60},{"x":810,"y":30,"v":55},{"x":830,"y":30,"v":60},{"x":850,"y":30,"v":55},{"x":870,"y":30,"v":60},{"x":890,"y":30,"v":65},{"x":910,"y":30,"v":70},{"x":930,"y":30,"v":75},{"x":950,"y":30,"v":80},{"x":970,"y":30,"v":80},{"x":990,"y":30,"v":110},
{"x":10,"y":10,"v":80},{"x":30,"y":10,"v":70},{"x":50,"y":10,"v":65},{"x":70,"y":10,"v":60},{"x":90,"y":10,"v":55},{"x":110,"y":10,"v":75},{"x":130,"y":10,"v":60},{"x":150,"y":10,"v":55},{"x":170,"y":10,"v":60},{"x":190,"y":10,"v":50},{"x":210,"y":10,"v":55},{"x":230,"y":10,"v":50},{"x":250,"y":10,"v":55},{"x":270,"y":10,"v":45},{"x":290,"y":10,"v":60},{"x":310,"y":10,"v":55},{"x":330,"y":10,"v":65},{"x":350,"y":10,"v":60},{"x":370,"y":10,"v":55},{"x":390,"y":10,"v":60},{"x":410,"y":10,"v":55},{"x":430,"y":10,"v":60},{"x":450,"y":10,"v":65},{"x":470,"y":10,"v":60},{"x":490,"y":10,"v":90},{"x":510,"y":10,"v":55},{"x":530,"y":10,"v":50},{"x":550,"y":10,"v":55},{"x":570,"y":10,"v":60},{"x":590,"y":10,"v":55},{"x":610,"y":10,"v":50},{"x":630,"y":10,"v":55},{"x":650,"y":10,"v":60},{"x":670,"y":10,"v":60},{"x":690,"y":10,"v":55},{"x":710,"y":10,"v":60},{"x":730,"y":10,"v":55},{"x":750,"y":10,"v":50},{"x":770,"y":10,"v":55},{"x":790,"y":10,"v":65},{"x":810,"y":10,"v":60},{"x":830,"y":10,"v":55},{"x":850,"y":10,"v":60},{"x":870,"y":10,"v":65},{"x":890,"y":10,"v":60},{"x":910,"y":10,"v":65},{"x":930,"y":10,"v":70},{"x":950,"y":10,"v":75},{"x":970,"y":10,"v":75},{"x":990,"y":10,"v":80}
]},
"mark": {"type": "rect", "stroke": "#acacac", "strokeWidth": 1},
"encoding": {
"x": {"field": "x", "type": "quantitative", "bin": {"step": 20, "extent": [0, 1000]}, "scale": {"domain": [0, 1000], "nice": false},
 "axis": {"values": [0, 200, 400, 600, 800, 1000], "format": "d", "title": "x (metres)", "grid": false, "domainColor": "black", "domainWidth": 1.5, "tickColor": "black", "tickWidth": 1.5, "tickSize": 5, "labelFontSize": 23, "labelColor": "black", "labelPadding": 3, "titleFontSize": 31, "titleFontWeight": "normal", "titleColor": "black", "titlePadding": 4, "labelFlush": false}},
"y": {"field": "y", "type": "quantitative", "bin": {"step": 20, "extent": [0, 500]}, "scale": {"domain": [0, 500], "nice": false},
 "axis": {"values": [0, 100, 200, 300, 400, 500], "format": "d", "title": "y (metres)", "grid": false, "domainColor": "black", "domainWidth": 1.5, "tickColor": "black", "tickWidth": 1.5, "tickSize": 5, "labelFontSize": 23, "labelColor": "black", "labelPadding": 5, "titleFontSize": 31, "titleFontWeight": "normal", "titleColor": "black", "titlePadding": 3, "labelFlush": false}},
"color": {"field": "v", "type": "quantitative", "scale": {"domain": [25, 450], "range": ["#f6f7f2", "#556a2f"]},
 "legend": {"title": "¹γ", "orient": "none", "legendX": 468, "legendY": -3, "direction": "vertical", "values": [100, 200, 300, 400], "gradientLength": 133, "gradientThickness": 29, "gradientStrokeWidth": 0, "labelFontSize": 23, "labelColor": "black", "labelOffset": 7, "titleFont": "DejaVu Serif", "titleFontSize": 56, "titleFontWeight": "normal", "titleFontStyle": "italic", "titleColor": "black", "titlePadding": 8}}
}
}
